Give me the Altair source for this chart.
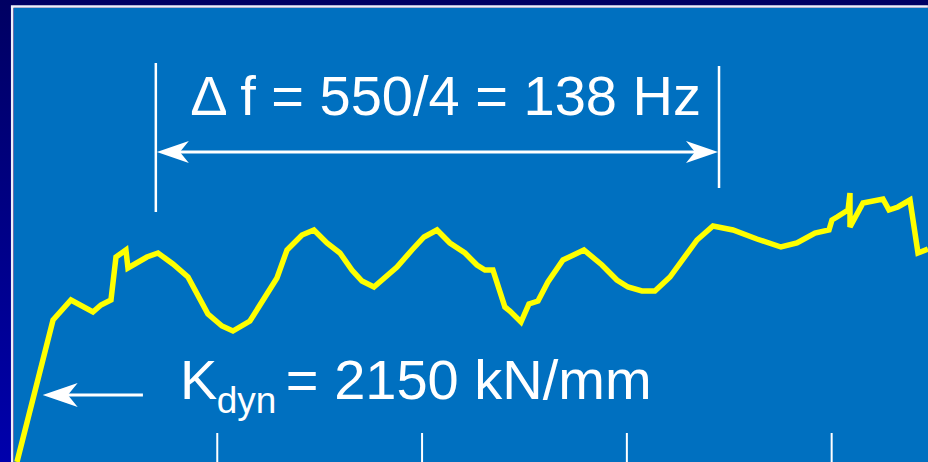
import altair as alt
import pandas as pd

# Measured response: frequency (Hz) and relative amplitude
freq_hz = [4.4, 39.6, 57.1, 78.6, 86.4, 96.2, 101.1, 110.8, 112.8, 131.3,
           142.1, 156.7, 171.4, 190.9, 204.6, 215.3, 231.9, 258.3, 268.1, 282.7,
           294.4, 307.1, 319.8, 331.5, 341.3, 353.0, 375.5, 390.1, 401.9, 414.6,
           427.2, 441.9, 453.6, 461.4, 469.2, 480.9, 485.8, 496.6, 504.4, 513.2,
           522.9, 537.6, 558.1, 575.7, 590.3, 601.1, 614.7, 627.4, 642.1, 668.5,
           684.1, 703.6, 727.0, 750.5, 766.1, 783.7, 797.4, 800.3, 805.2, 816.0,
           817.9, 817.9, 830.6, 850.1, 856.0, 864.7, 876.5, 884.3, 894.0]
amplitude = [0.00, 1.42, 1.62, 1.50, 1.57, 1.62, 2.05, 2.12, 1.94, 2.05,
             2.09, 1.98, 1.85, 1.48, 1.36, 1.31, 1.41, 1.84, 2.12, 2.27,
             2.32, 2.19, 2.09, 1.92, 1.81, 1.75, 1.95, 2.12, 2.25, 2.32,
             2.19, 2.09, 1.97, 1.92, 1.92, 1.55, 1.51, 1.40, 1.58, 1.61,
             1.80, 2.02, 2.12, 1.97, 1.82, 1.75, 1.71, 1.71, 1.85, 2.22,
             2.36, 2.32, 2.23, 2.15, 2.19, 2.29, 2.32, 2.42, 2.45, 2.52,
             2.69, 2.35, 2.59, 2.63, 2.52, 2.55, 2.62, 2.09, 2.13]

# Frequency ticks along the bottom edge
tick_hz = [200, 400, 600, 800]
tick_top = 0.29

# Bracket marking four periods: 550 Hz / 4 = 138 Hz
bracket_hz = [140, 690]
bracket_low = [2.50, 2.74]
bracket_high = [3.99, 3.96]
span_level = 3.10
span_label = "\u0394 f = 550/4 = 138 Hz"
span_label_hz = 423
span_label_level = 3.47

# Stiffness annotation
kdyn_tip_hz = 29.5
kdyn_tail_hz = 127.4
kdyn_level = 0.67
kdyn_parts = ["K", "dyn", "= 2150 kN/mm"]
kdyn_part_hz = [163.6, 199.5, 267.0]
kdyn_part_level = [0.63, 0.49, 0.63]
kdyn_part_size = [56, 37, 56]

# Panel frame: dark side band and the thin light border lines
band_hz = [-12.5, -1.2]
band_level = [0.0, 4.62]
frame_left_hz = -0.25
frame_top_level = 4.555
frame_hz = [-1.5, 894.0]

W, H = 914, 454
X_DOMAIN = [1.5, 1.5 + W / 1.024]
Y_DOMAIN = [0.0, 4.54]
BLUE = "#0070C0"
NAVY = "#000064"
FRAME = "#EEF0FA"
YELLOW = "#FFFF00"
FONT = "Liberation Sans"

xs = alt.Scale(domain=X_DOMAIN, nice=False, zero=False)
ys = alt.Scale(domain=Y_DOMAIN, nice=False, zero=False)


def X(field):
    return alt.X(field, type="quantitative", scale=xs, axis=None)


def Y(field):
    return alt.Y(field, type="quantitative", scale=ys, axis=None)


band = alt.Chart(pd.DataFrame({"f0": [band_hz[0]], "f1": [band_hz[1]],
                               "a0": [band_level[0]], "a1": [band_level[1]]})).mark_rect(
    color=alt.Gradient(
        gradient="linear",
        stops=[alt.GradientStop(color="#000062", offset=0),
               alt.GradientStop(color="#0000AC", offset=1)],
        x1=0, x2=0, y1=0, y2=1,
    )
).encode(x=X("f0"), x2=alt.X2("f1"), y=Y("a0"), y2=alt.Y2("a1"))

frame_left = alt.Chart(pd.DataFrame({"f": [frame_left_hz], "a0": [0.0], "a1": [frame_top_level]})).mark_rule(
    color=FRAME, strokeWidth=2.5
).encode(x=X("f"), y=Y("a0"), y2=alt.Y2("a1"))
frame_top = alt.Chart(pd.DataFrame({"f0": [frame_hz[0]], "f1": [frame_hz[1]], "a": [frame_top_level]})).mark_rule(
    color=FRAME, strokeWidth=2.5
).encode(x=X("f0"), x2=alt.X2("f1"), y=Y("a"))

curve_df = pd.DataFrame({"f": freq_hz, "a": amplitude, "i": list(range(len(freq_hz)))})
curve = alt.Chart(curve_df).mark_line(
    color=YELLOW, strokeWidth=5.5, strokeJoin="miter", clip=True
).encode(x=X("f"), y=Y("a"), order=alt.Order("i", type="quantitative"))

ticks = alt.Chart(pd.DataFrame({"f": tick_hz, "a0": [0.0] * 4, "a1": [tick_top] * 4})).mark_rule(
    color="white", strokeWidth=2
).encode(x=X("f"), y=Y("a0"), y2=alt.Y2("a1"))

brackets = alt.Chart(pd.DataFrame({"f": bracket_hz, "lo": bracket_low, "hi": bracket_high})).mark_rule(
    color="white", strokeWidth=2.5
).encode(x=X("f"), y=Y("lo"), y2=alt.Y2("hi"))

span_df = pd.DataFrame({"f0": [bracket_hz[0] + 10], "f1": [bracket_hz[1] - 10], "a": [span_level]})
span = alt.Chart(span_df).mark_rule(color="white", strokeWidth=3).encode(
    x=X("f0"), x2=alt.X2("f1"), y=Y("a"))

# Notched arrowheads with the tip at the anchor point
HEAD_LEFT = "M0,0 L1,-0.34 L0.72,0 L1,0.34 Z"
HEAD_RIGHT = "M0,0 L-1,-0.34 L-0.72,0 L-1,0.34 Z"

head_l = alt.Chart(pd.DataFrame({"f": [bracket_hz[0] + 1], "a": [span_level]})).mark_point(
    shape=HEAD_LEFT, size=4096, filled=True, color="white", opacity=1
).encode(x=X("f"), y=Y("a"))
head_r = alt.Chart(pd.DataFrame({"f": [bracket_hz[1] - 1], "a": [span_level]})).mark_point(
    shape=HEAD_RIGHT, size=4096, filled=True, color="white", opacity=1
).encode(x=X("f"), y=Y("a"))

span_text = alt.Chart(pd.DataFrame({"f": [span_label_hz], "a": [span_label_level], "t": [span_label]})).mark_text(
    color="white", fontSize=56, font=FONT, align="center", baseline="alphabetic"
).encode(x=X("f"), y=Y("a"), text=alt.Text("t", type="nominal"))

kdyn_shaft = alt.Chart(pd.DataFrame({"f0": [kdyn_tip_hz + 12], "f1": [kdyn_tail_hz], "a": [kdyn_level]})).mark_rule(
    color="white", strokeWidth=3
).encode(x=X("f0"), x2=alt.X2("f1"), y=Y("a"))
kdyn_head = alt.Chart(pd.DataFrame({"f": [kdyn_tip_hz], "a": [kdyn_level]})).mark_point(
    shape=HEAD_LEFT, size=4900, filled=True, color="white", opacity=1
).encode(x=X("f"), y=Y("a"))

kdyn_df = pd.DataFrame({"f": kdyn_part_hz, "a": kdyn_part_level, "t": kdyn_parts, "s": kdyn_part_size})
kdyn_text = alt.Chart(kdyn_df).mark_text(
    color="white", font=FONT, align="left", baseline="alphabetic"
).encode(
    x=X("f"), y=Y("a"), text=alt.Text("t", type="nominal"),
    size=alt.Size("s", type="quantitative", scale=None, legend=None),
)

chart = alt.layer(
    band, frame_left, frame_top, ticks, brackets, span, head_l, head_r, span_text,
    kdyn_shaft, kdyn_head, kdyn_text, curve,
).properties(
    width=W, height=H,
    padding={"left": 14, "top": 8, "right": 0, "bottom": 0},
    autosize=alt.AutoSizeParams(type="none"),
    background=NAVY,
).configure_view(fill=BLUE, stroke=BLUE, strokeWidth=0)

chart.save("out.html", embed_options={"renderer": "svg", "actions": False})
